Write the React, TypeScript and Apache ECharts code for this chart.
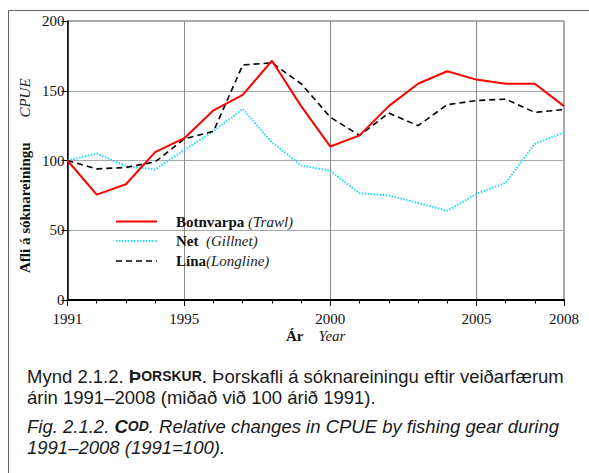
import React, { useEffect, useRef } from "react";
import * as echarts from "echarts";

const years = ["1991","1992","1993","1994","1995","1996","1997","1998","1999","2000","2001","2002","2003","2004","2005","2006","2007","2008"];
const botnvarpa = [100, 75.5, 83, 106, 116, 136, 147, 171.5, 139, 110, 118, 139, 155, 164, 158, 155, 155, 139];
const net = [100, 105, 96, 93.6, 107.5, 121, 137, 113, 96.5, 92.5, 76.5, 75, 69.5, 64, 76, 84, 112, 120];
const lina = [100, 94, 95, 99, 115.5, 121, 168.5, 170, 155, 131, 118, 134, 125, 140, 143, 144, 134.5, 136.5];
const labelYears = [0, 4, 9, 14, 17];
const gridYears = [4, 9, 14];
const yTicks = { min: 0, max: 200, interval: 50 };

const SERIF = "Liberation Serif";
const SANS = "Liberation Sans";

export default function App() {
  const ref = useRef<HTMLDivElement>(null);
  useEffect(() => {
    if (!ref.current) return;
    const chart = echarts.init(ref.current, undefined, { renderer: "svg" });
    const legendRows = [
      { y: 221.5, color: "#ff0000", dash: undefined as any, w: 2, b: "Botnvarpa", i: " (Trawl)" },
      { y: 241, color: "#22dcf5", dash: [1.5, 1.5], w: 2, b: "Net", i: "  (Gillnet)" },
      { y: 261, color: "#000000", dash: [6, 4], w: 1.6, b: "Lína", i: "(Longline)" },
    ];
    const graphic: any[] = [
      { type: "line", shape: { x1: 8.5, y1: 10.5, x2: 589, y2: 10.5 }, style: { stroke: "#666", lineWidth: 1 } },
      { type: "line", shape: { x1: 8.5, y1: 10.5, x2: 8.5, y2: 473 }, style: { stroke: "#666", lineWidth: 1 } },
    ];
    legendRows.forEach((r) => {
      graphic.push({
        type: "line",
        shape: { x1: 116, y1: r.y, x2: 157, y2: r.y },
        style: { stroke: r.color, lineWidth: r.w, lineDash: r.dash },
        z: 10,
      });
      graphic.push({
        type: "text",
        x: 176,
        y: r.y,
        z: 10,
        style: {
          text: `{b|${r.b}}{i|${r.i}}`,
          verticalAlign: "middle",
          rich: {
            b: { fontFamily: SERIF, fontWeight: "bold", fontSize: 15, fill: "#111" },
            i: { fontFamily: SERIF, fontStyle: "italic", fontSize: 15, fill: "#222" },
          },
        },
      });
    });
    // axis names
    graphic.push({
      type: "text",
      x: 25,
      y: 273,
      rotation: Math.PI / 2,
      style: { text: "Afli á sóknareiningu", fontFamily: SERIF, fontWeight: "bold", fontSize: 15, fill: "#111", align: "left", verticalAlign: "middle" },
    });
    graphic.push({
      type: "text",
      x: 25,
      y: 98,
      rotation: Math.PI / 2,
      style: { text: "CPUE", fontFamily: SERIF, fontStyle: "italic", fontSize: 15, fill: "#222", align: "center", verticalAlign: "middle" },
    });
    graphic.push({
      type: "text",
      x: 286,
      y: 336,
      style: {
        text: "{b|Ár}{i|    Year}",
        verticalAlign: "middle",
        rich: {
          b: { fontFamily: SERIF, fontWeight: "bold", fontSize: 15, fill: "#111" },
          i: { fontFamily: SERIF, fontStyle: "italic", fontSize: 15, fill: "#222" },
        },
      },
    });
    // caption
    const FS = 18.5;
    const FSS = 14;
    const capRich = {
      n: { fontFamily: SANS, fontSize: FS, fill: "#1a1a1a" },
      b: { fontFamily: SANS, fontSize: FS, fontWeight: "bold", fill: "#1a1a1a" },
      bs: { fontFamily: SANS, fontSize: FSS, fontWeight: "bold", fill: "#1a1a1a" },
      it: { fontFamily: SANS, fontSize: FS, fontStyle: "italic", fill: "#1a1a1a" },
      bi: { fontFamily: SANS, fontSize: FS, fontStyle: "italic", fontWeight: "bold", fill: "#1a1a1a" },
      bis: { fontFamily: SANS, fontSize: FSS, fontStyle: "italic", fontWeight: "bold", fill: "#1a1a1a" },
    };
    const capLines = [
      { y: 376, text: "{n|Mynd 2.1.2. }{b|Þ}{bs|ORSKUR}{n|. Þorskafli á sóknareiningu eftir veiðarfærum}" },
      { y: 397, text: "{n|árin 1991–2008 (miðað við 100 árið 1991).}" },
      { y: 426, text: "{it|Fig. 2.1.2. }{bi|C}{bis|OD}{it|. Relative changes in CPUE by fishing gear during}" },
      { y: 447, text: "{it|1991–2008 (1991=100).}" },
    ];
    capLines.forEach((l) => {
      graphic.push({
        type: "text",
        x: 27,
        y: l.y,
        style: { text: l.text, verticalAlign: "middle", rich: capRich },
      });
    });

    chart.setOption({
      animation: false,
      backgroundColor: "#ffffff",
      grid: { left: 67.5, right: 25, top: 21, bottom: 173, show: true, borderColor: "#555", borderWidth: 1, containLabel: false },
      xAxis: [
        {
          type: "category",
          data: years,
          boundaryGap: false,
          axisLine: { lineStyle: { color: "#000", width: 2 } },
          axisTick: {
            show: true,
            interval: (idx: number) => labelYears.includes(idx),
            length: 6,
            lineStyle: { color: "#000", width: 1 },
          },
          axisLabel: {
            interval: (idx: number) => labelYears.includes(idx),
            fontFamily: SERIF,
            fontSize: 15,
            color: "#111",
            margin: 11,
          },
          splitLine: {
            show: true,
            interval: (idx: number) => gridYears.includes(idx),
            lineStyle: { color: "#8a8a8a", width: 1 },
          },
        },
        {
          type: "category",
          data: years,
          position: "bottom",
          boundaryGap: false,
          axisLine: { show: false },
          axisTick: { show: true, interval: 0, length: 3.5, lineStyle: { color: "#000", width: 1 } },
          axisLabel: { show: false },
          splitLine: { show: false },
        },
      ],
      yAxis: {
        type: "value",
        min: yTicks.min,
        max: yTicks.max,
        interval: yTicks.interval,
        axisLine: { show: true, lineStyle: { color: "#000", width: 1.5 } },
        axisTick: { show: true, length: 6, lineStyle: { color: "#000", width: 1 } },
        axisLabel: { fontFamily: SERIF, fontSize: 15, color: "#111", margin: 3 },
        splitLine: { show: true, lineStyle: { color: "#a8a8a8", width: 1 } },
      },
      series: [
        {
          name: "Net",
          type: "line",
          data: net,
          symbol: "none",
          lineStyle: { color: "#22dcf5", width: 2, type: [1.5, 1.5] },
          z: 3,
        },
        {
          name: "Lína",
          type: "line",
          data: lina,
          symbol: "none",
          lineStyle: { color: "#000", width: 1.6, type: [6, 4] },
          z: 4,
        },
        {
          name: "Botnvarpa",
          type: "line",
          data: botnvarpa,
          symbol: "none",
          lineStyle: { color: "#ff0000", width: 2 },
          z: 5,
        },
      ],
      graphic,
    });
    return () => chart.dispose();
  }, []);
  return (
    <div
      ref={ref}
      style={{ position: "absolute", left: 0, top: 0, width: 589, height: 473, background: "#fff" }}
    />
  );
}
